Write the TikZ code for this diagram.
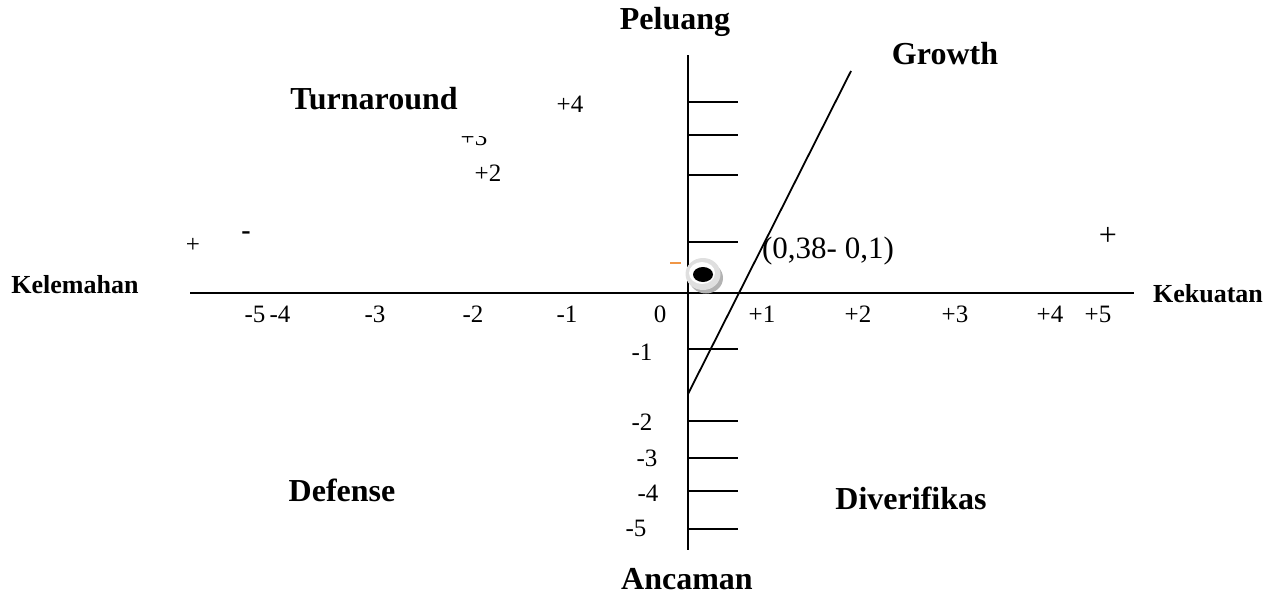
\documentclass[tikz,border=0pt]{standalone}
\usepackage{fontspec}
\setmainfont{Liberation Serif}
\begin{document}
\begin{tikzpicture}[x=0.5pt,y=-0.5pt,
  ttl/.style={font=\fontsize{16}{18}\selectfont\bfseries, inner sep=0pt},
  sml/.style={font=\fontsize{13}{15}\selectfont\bfseries, inner sep=0pt},
  num/.style={font=\fontsize{12.5}{14}\selectfont, inner sep=0pt},
  axis/.style={line width=1pt, black},
  tick/.style={line width=0.8pt, black}]
\useasboundingbox (0,0) rectangle (1267,594);
% axes
\coordinate (xl) at (190,293); \coordinate (xr) at (1134,293);
\coordinate (yt) at (688,55);  \coordinate (yb) at (688,550);
\draw[axis] (xl) -- (xr);
\draw[axis] (yt) -- (yb);
% ticks
\foreach \y/\n in {102/a,135/b,175/c,242/d,349/e,421/f,458/g,491/h,529/i}{
  \coordinate (t\n) at (688,\y); \coordinate (u\n) at (738,\y);
  \draw[tick] (t\n) -- (u\n);
}
% diagonal
\coordinate (d1) at (688,394); \coordinate (d2) at (851,71);
\draw[line width=0.9pt] (d1) -- (d2);
% titles
\node[ttl] (pel) at (675,22) {Peluang};
\node[ttl] (gro) at (945,54) {Growth};
\node[ttl] (tur) at (374,99) {Turnaround};
\node[ttl] (def) at (342,490) {Defense};
\node[ttl] (div) at (911,498) {Diverifikas};
\node[ttl] (anc) at (687,579) {Ancaman};
\node[sml] (kel) at (75,285) {Kelemahan};
\node[sml] (kek) at (1208,294) {Kekuatan};
% y labels (upper)
\node[num] (p4) at (570,104) {+4};
\begin{scope}
  \clip (440,136.5) rectangle (510,152);
  \node[num] (p3) at (474,137) {+3};
\end{scope}
\node[num] (p2) at (488,173) {+2};
% signs
\node[num] (plusl) at (193,245) {+};
\node[font=\fontsize{14}{16}\selectfont\bfseries, inner sep=0pt] (minl) at (246,236) {-};
\node[font=\fontsize{16}{18}\selectfont, inner sep=0pt] (plusr) at (1108,236) {+};
\node[font=\fontsize{15.5}{18}\selectfont, inner sep=0pt] (pt) at (828,251) {(0,38- 0,1)};
% x labels
\foreach \x/\t/\n in {255/-5/m5,280/-4/m4,375/-3/m3,473/-2/m2,567/-1/m1,660/0/z,762/+1/q1,858/+2/q2,955/+3/q3,1050/+4/q4,1098/+5/q5}{
  \node[num] (x\n) at (\x,314) {\t};
}
% y labels (lower)
\node[num] (ym1) at (642,352) {-1};
\node[num] (ym2) at (642,422) {-2};
\node[num] (ym3) at (647,458) {-3};
\node[num] (ym4) at (648,493) {-4};
\node[num] (ym5) at (636,528) {-5};
% orange dash
\coordinate (o1) at (670,263); \coordinate (o2) at (681,263);
\draw[line width=1.3pt, color={rgb,255:red,240;green,150;blue,70}] (o1) -- (o2);
% eye marker
\fill[gray!60] (706,278) ellipse [x radius=17, y radius=15.5];
\fill[gray!25] (703,274) ellipse [x radius=17.5, y radius=16];
\fill[white] (702,273) ellipse [x radius=13, y radius=11];
\fill[black] (703,274.5) ellipse [x radius=10, y radius=7.5];
\end{tikzpicture}
\end{document}
